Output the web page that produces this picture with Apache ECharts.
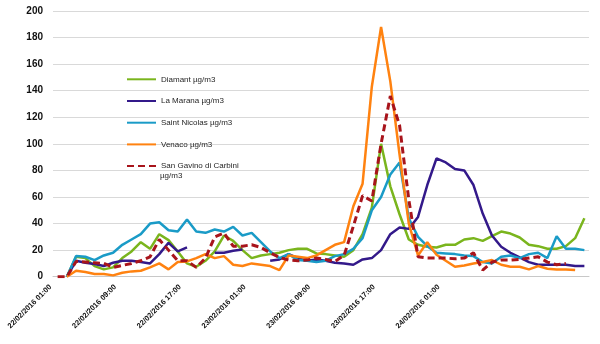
<!DOCTYPE html>
<html>
<head>
<meta charset="utf-8">
<script src="https://cdn.jsdelivr.net/npm/echarts@6/dist/echarts.min.js"></script>
<style>
  html, body { margin: 0; padding: 0; background: #ffffff; }
  #chart { width: 600px; height: 344px; }
</style>
</head>
<body>
<div id="chart"></div>
<script>
// Hourly PM10 readings, Corsica stations, 22-24 February 2016
const tickLabels = [
  '22/02/2016 01:00', '22/02/2016 09:00', '22/02/2016 17:00',
  '23/02/2016 01:00', '23/02/2016 09:00', '23/02/2016 17:00',
  '24/02/2016 01:00'
];
const labelStep = 7;     // one tick label every 7 readings
const readingCount = 58;

const seriesNames = [
  'Diamant µg/m3',
  'La Marana µg/m3',
  'Saint Nicolas µg/m3',
  'Venaco µg/m3',
  'San Gavino di Carbini µg/m3'
];

const diamant = [
  null, 0, 15, 14, 8, 5.5, 7, 14, 19, 26, 21, 32, 27.5, 19, 10, 7.5,
  12, 19, 31, 27, 20, 14, 16, 17, 18, 20, 21, 21, 17.5, 17, 16, 15,
  20, 32, 52, 100, 68, 47, 28, 24, 22.5, 22, 24, 24, 28, 29, 27, 30.5,
  34, 32.5, 29.5, 24, 23, 21, 21, 23, 29, 44
];
const laMarana = [
  null, 0, 12, 10.5, 9.5, 8, 10.5, 12, 12, 11, 10, 17, 25.5, 19, 22, null,
  null, 18, 18, 19.5, 20.5, null, null, 12, 13, 17, 14, 12, 13, 12, 10.5, 10,
  9, 13, 14, 20, 32, 37, 36, 45, 69, 89, 86, 81, 80, 69, 47.5, 31,
  22.5, 18, 14.5, 11, 9, 9, 9, 9, 8, 8
];
const saintNicolas = [
  null, 0, 15.5, 15, 12.5, 16, 18, 24, 28, 32, 40, 41, 35, 34, 43, 34,
  33, 35.5, 34, 37.5, 31, 33, 26, 19, 14, 17, 12.5, 12, 11, 12, 15.5, 17,
  21, 29, 50, 60, 77, 86, 44, 30, 23, 18, 17.5, 17, 16, 15.5, 11, 10,
  15, 16, 14, 17, 18, 14, 30.5, 21, 21, 20
];
const venaco = [
  null, 0, 4.5, 3.5, 2, 2, 1, 3, 4, 4.5, 7, 10, 5.5, 11, 11.5, 14,
  17, 14, 15.5, 9, 8, 10, 9, 8, 5, 16, 15, 14, 16, 20, 24, 26,
  53, 70, 143, 188, 147, 92, 40, 16, 26, 16.5, 12, 7.5, 8.5, 10, 11, 12.5,
  9, 7.5, 7.5, 5.5, 8, 6, 5.5, 5.5, 5, null
];
const sanGavino = [
  0, 0, 11.5, 11, 10.5, 10, 7, 8.5, 10, 12, 15, 28, 20, 12, 12, 7,
  14, 30, 33, 23, 23, 24, 22, 18, 14.5, 12.5, 12, 12.5, 14, 13, 11.5, 16,
  38, 61, 57, 100, 136, 114, 58, 15, 14, 14, 14, 13.5, 14, 18, 5, 11,
  12.5, 12.5, 13, 14, 15, 11, 9, 10, null, null
];

const yTicks = { min: 0, max: 200, step: 20 };

const colors = ['#7ab51d', '#33198a', '#1a9bc7', '#ff8210', '#a8141b'];
const FONT = 'Liberation Sans, Arial, sans-serif';

const readingSlots = [];
for (let i = 0; i < readingCount; i++) readingSlots.push(String(i));

const values = [diamant, laMarana, saintNicolas, venaco, sanGavino];

const series = seriesNames.map((name, k) => ({
  name: name,
  type: 'line',
  data: values[k],
  symbol: 'none',
  showSymbol: false,
  connectNulls: false,
  animation: false,
  lineStyle: {
    color: colors[k],
    width: k === 4 ? 3 : 2.5,
    type: k === 4 ? [7, 4] : 'solid',
    cap: 'butt'
  },
  itemStyle: { color: colors[k] },
  z: 2 + k
}));

const legendText = { fontFamily: FONT, fontSize: 8, lineHeight: 10, color: '#262626' };
const legendBase = {
  orient: 'vertical',
  left: 126,
  padding: 0,
  itemWidth: 29, itemHeight: 10, itemGap: 11.7,
  selectedMode: false,
  itemStyle: { opacity: 0 },
  textStyle: legendText
};

const chart = echarts.init(document.getElementById('chart'), null, { renderer: 'canvas' });
chart.setOption({
  animation: false,
  backgroundColor: '#ffffff',
  color: colors,
  grid: { left: 53, right: 11, top: 11, bottom: 67.3, containLabel: false },
  legend: [
    Object.assign({}, legendBase, { data: seriesNames.slice(0, 4), top: 74.3 }),
    Object.assign({}, legendBase, {
      data: [seriesNames[4]],
      top: 161,
      formatter: (name) => name.replace(' µg/m3', '')
    })
  ],
  graphic: [{
    type: 'text',
    left: 160,
    top: 171.5,
    style: { text: 'µg/m3', fontFamily: FONT, fontSize: 8, fill: '#262626' }
  }],
  xAxis: {
    type: 'category',
    data: readingSlots,
    boundaryGap: true,
    axisLine: { show: true, lineStyle: { color: '#c8c8c8', width: 1 } },
    axisTick: { show: false },
    splitLine: { show: false },
    axisLabel: {
      interval: labelStep - 1,
      rotate: 45,
      margin: 2,
      padding: [0, 10, 0, 0],
      fontFamily: FONT,
      fontSize: 7.5,
      fontWeight: 'bold',
      color: '#111111',
      formatter: (value, index) => tickLabels[index / labelStep] || ''
    }
  },
  yAxis: {
    type: 'value',
    min: yTicks.min, max: yTicks.max, interval: yTicks.step,
    axisLine: { show: false },
    axisTick: { show: false },
    splitLine: { lineStyle: { color: '#d9d9d9', width: 1 } },
    axisLabel: {
      margin: 10,
      fontFamily: FONT,
      fontSize: 10,
      fontWeight: 'bold',
      color: '#111111'
    }
  },
  series: series
});
</script>
</body>
</html>
